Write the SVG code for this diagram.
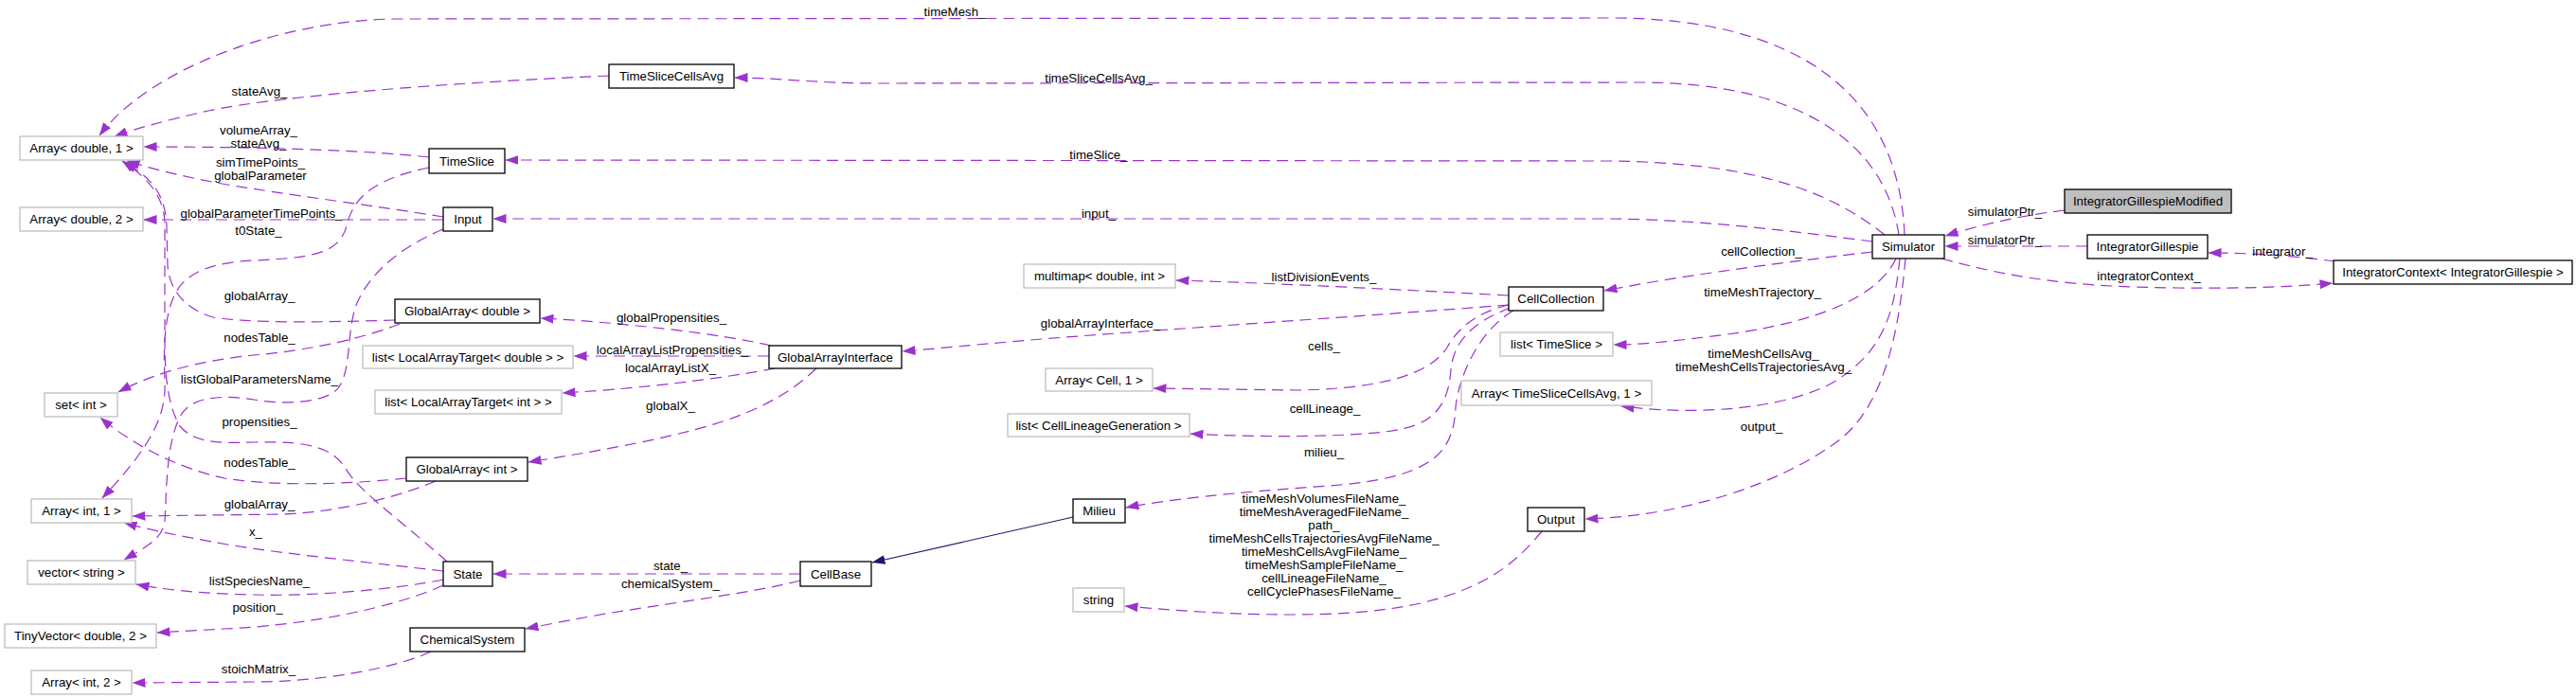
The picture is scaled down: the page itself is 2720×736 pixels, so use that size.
<svg xmlns="http://www.w3.org/2000/svg" width="2720" height="736" viewBox="0 0 2720 736">
<style>
text{font-family:"Liberation Sans",Arial,sans-serif;font-size:13.3px;fill:#000}
.node text{text-anchor:middle}
.node rect{fill:#fff;stroke:#000;stroke-width:1.3}
.node.ext rect{stroke:#bfbfbf}
.node.cur rect{fill:#bfbfbf}
.edges path{fill:none;stroke:#9a32cd;stroke-width:1.2;stroke-dasharray:12,7}
.edges path.inh{stroke:#191970;stroke-dasharray:none}
.lbl text{text-anchor:middle}
</style>
<defs>
<marker id="ah" markerWidth="14" markerHeight="10" refX="13.5" refY="5" orient="auto" markerUnits="userSpaceOnUse"><path d="M0,0 L14,5 L0,10 z" fill="#9a32cd"/></marker>
<marker id="ahi" markerWidth="14" markerHeight="10" refX="13.5" refY="5" orient="auto" markerUnits="userSpaceOnUse"><path d="M0,0 L14,5 L0,10 z" fill="#191970"/></marker>
</defs>
<rect width="2720" height="736" fill="#fff"/>
<g class="edges">
<path marker-end="url(#ah)" d="M2011,248 C2005,100 1900,19 1700,19 L415,20 C300,22 160,70 105,143"/>
<path marker-end="url(#ah)" d="M2005,248 C1990,150 1900,88 1735,87 L930,88 C860,88 820,82 776,82"/>
<path marker-end="url(#ah)" d="M1990,248 C1930,200 1850,172 1700,170 L534,169"/>
<path marker-end="url(#ah)" d="M1977,255 C1900,245 1800,232 1700,231 L521,231"/>
<path marker-end="url(#ah)" d="M1977,266 C1900,275 1780,290 1694,307"/>
<path marker-end="url(#ah)" d="M2002,273 C1980,320 1900,345 1800,356 C1760,361 1730,364 1704,364"/>
<path marker-end="url(#ah)" d="M2006,273 C2000,330 1990,370 1937,403 C1890,430 1800,440 1712,429"/>
<path marker-end="url(#ah)" d="M2012,273 C2005,350 1990,430 1939,467 C1880,510 1780,545 1674,548"/>
<path marker-end="url(#ah)" d="M2180,222 C2130,228 2090,238 2054,249"/>
<path marker-end="url(#ah)" d="M2204,260 L2054,260"/>
<path marker-end="url(#ah)" d="M2466,276 C2420,270 2380,267 2332,267"/>
<path marker-end="url(#ah)" d="M2050,273 C2120,292 2180,303 2300,304 C2380,305 2430,302 2463,299"/>
<path marker-end="url(#ah)" d="M1593,312 C1500,307 1350,299 1242,296"/>
<path marker-end="url(#ah)" d="M1593,322 C1450,333 1200,350 1100,358 C1040,363 990,368 953,371"/>
<path marker-end="url(#ah)" d="M1593,322 C1560,330 1540,345 1528,367 C1510,395 1460,410 1372,412 L1218,410"/>
<path marker-end="url(#ah)" d="M1595,325 C1555,340 1535,360 1532,390 C1530,420 1520,445 1480,453 C1440,462 1330,462 1257,458"/>
<path marker-end="url(#ah)" d="M1598,328 C1560,350 1540,400 1537,430 C1535,480 1510,505 1403,513 C1300,520 1230,528 1189,536"/>
<path marker-end="url(#ah)" d="M1628,561 C1600,595 1570,620 1500,637 C1420,655 1300,650 1188,640"/>
<path class="inh" marker-end="url(#ahi)" d="M1133,546 L921,594"/>
<path marker-end="url(#ah)" d="M845,606 L521,606"/>
<path marker-end="url(#ah)" d="M845,613 C800,625 720,635 640,648 C600,655 575,660 555,664"/>
<path marker-end="url(#ah)" d="M814,365 C760,352 650,340 571,336"/>
<path marker-end="url(#ah)" d="M812,376 L606,376"/>
<path marker-end="url(#ah)" d="M818,389 C760,400 680,410 594,415"/>
<path marker-end="url(#ah)" d="M862,389 C840,410 810,430 760,446 C700,465 620,478 558,488"/>
<path marker-end="url(#ah)" d="M643,80 C500,86 300,100 220,117 C180,126 145,135 121,144"/>
<path marker-end="url(#ah)" d="M453,166 C400,160 300,155 152,155"/>
<path marker-end="url(#ah)" d="M468,229 C400,218 300,205 240,195 C190,186 160,178 134,170"/>
<path marker-end="url(#ah)" d="M468,232 L152,232"/>
<path marker-end="url(#ah)" d="M453,177 C400,188 375,205 367,235 C360,265 340,272 268,275 C220,277 195,290 185,310 C175,330 172,360 174,400 C176,440 160,470 108,526"/>
<path marker-end="url(#ah)" d="M468,242 C420,262 390,290 377,320 C365,350 372,390 357,410 C345,425 300,428 268,422 C230,416 200,420 190,440 C175,470 176,520 174,550 C172,570 150,580 131,591"/>
<path marker-end="url(#ah)" d="M472,593 C430,555 380,520 365,495 C350,470 320,466 268,467 C230,468 205,468 190,450 C178,430 174,400 174,360 L174,235 C173,210 160,190 129,170"/>
<path marker-end="url(#ah)" d="M417,338 C350,340 270,342 225,335 C190,325 178,300 177,280 L176,240 C175,210 165,190 131,171"/>
<path marker-end="url(#ah)" d="M422,342 C390,355 330,370 268,375 C220,380 170,390 125,414"/>
<path marker-end="url(#ah)" d="M429,505 C380,510 300,515 237,505 C190,495 140,470 106,441"/>
<path marker-end="url(#ah)" d="M460,508 C420,525 360,540 300,543 L140,545"/>
<path marker-end="url(#ah)" d="M468,603 C400,595 300,585 240,575 C190,566 160,560 131,552"/>
<path marker-end="url(#ah)" d="M468,612 C420,622 330,630 268,628 C210,627 170,622 144,617"/>
<path marker-end="url(#ah)" d="M468,618 C420,640 330,660 237,664 L166,668"/>
<path marker-end="url(#ah)" d="M455,688 C420,705 340,720 268,720 L140,721"/>
</g>
<g class="lbl">
<text x="1008" y="17">timeMesh_</text>
<text x="1160" y="87">timeSliceCellsAvg_</text>
<text x="1160" y="168">timeSlice_</text>
<text x="1160" y="230">input_</text>
<text x="274" y="101">stateAvg_</text>
<text x="273" y="142">volumeArray_</text>
<text x="273" y="156">stateAvg_</text>
<text x="275" y="176">simTimePoints_</text>
<text x="275" y="190">globalParameter</text>
<text x="276" y="230">globalParameterTimePoints_</text>
<text x="273" y="248">t0State_</text>
<text x="274" y="317">globalArray_</text>
<text x="274" y="361">nodesTable_</text>
<text x="274" y="405">listGlobalParametersName_</text>
<text x="274" y="450">propensities_</text>
<text x="274" y="493">nodesTable_</text>
<text x="274" y="537">globalArray_</text>
<text x="270" y="566">x_</text>
<text x="274" y="618">listSpeciesName_</text>
<text x="272" y="646">position_</text>
<text x="273" y="711">stoichMatrix_</text>
<text x="709" y="340">globalPropensities_</text>
<text x="710" y="374">localArrayListPropensities_</text>
<text x="708" y="393">localArrayListX_</text>
<text x="708" y="433">globalX_</text>
<text x="708" y="602">state_</text>
<text x="708" y="621">chemicalSystem_</text>
<text x="1398" y="297">listDivisionEvents_</text>
<text x="1162" y="346">globalArrayInterface_</text>
<text x="1398" y="370">cells_</text>
<text x="1399" y="436">cellLineage_</text>
<text x="1398" y="482">milieu_</text>
<text x="1398" y="531">timeMeshVolumesFileName_</text>
<text x="1398" y="545">timeMeshAveragedFileName_</text>
<text x="1398" y="559">path_</text>
<text x="1398" y="573">timeMeshCellsTrajectoriesAvgFileName_</text>
<text x="1398" y="587">timeMeshCellsAvgFileName_</text>
<text x="1398" y="601">timeMeshSampleFileName_</text>
<text x="1398" y="615">cellLineageFileName_</text>
<text x="1398" y="629">cellCyclePhasesFileName_</text>
<text x="1860" y="270">cellCollection_</text>
<text x="1861" y="313">timeMeshTrajectory_</text>
<text x="1862" y="378">timeMeshCellsAvg_</text>
<text x="1862" y="392">timeMeshCellsTrajectoriesAvg_</text>
<text x="1860" y="455">output_</text>
<text x="2117" y="228">simulatorPtr_</text>
<text x="2117" y="258">simulatorPtr_</text>
<text x="2410" y="270">integrator_</text>
<text x="2269" y="296">integratorContext_</text>
</g>
<g id="n_arr_d1" class="node ext"><rect x="21" y="144" width="130" height="25"/><text x="86" y="161">Array&lt; double, 1 &gt;</text></g>
<g id="n_arr_d2" class="node ext"><rect x="21" y="219" width="130" height="25"/><text x="86" y="236">Array&lt; double, 2 &gt;</text></g>
<g id="n_set_int" class="node ext"><rect x="47" y="415" width="77" height="25"/><text x="85.5" y="432">set&lt; int &gt;</text></g>
<g id="n_arr_i1" class="node ext"><rect x="33" y="527" width="106" height="25"/><text x="86" y="544">Array&lt; int, 1 &gt;</text></g>
<g id="n_vec_str" class="node ext"><rect x="29" y="592" width="114" height="25"/><text x="86" y="609">vector&lt; string &gt;</text></g>
<g id="n_tinyvec" class="node ext"><rect x="5" y="659" width="160" height="25"/><text x="85" y="676">TinyVector&lt; double, 2 &gt;</text></g>
<g id="n_arr_i2" class="node ext"><rect x="33" y="708" width="106" height="25"/><text x="86" y="725">Array&lt; int, 2 &gt;</text></g>
<g id="n_tsca" class="node"><rect x="643" y="68" width="132" height="25"/><text x="709" y="85">TimeSliceCellsAvg</text></g>
<g id="n_timeslice" class="node"><rect x="453" y="157" width="80" height="26"/><text x="493" y="175">TimeSlice</text></g>
<g id="n_input" class="node"><rect x="468" y="219" width="52" height="25"/><text x="494" y="236">Input</text></g>
<g id="n_ga_double" class="node"><rect x="417" y="316" width="153" height="25"/><text x="493.5" y="333">GlobalArray&lt; double &gt;</text></g>
<g id="n_lat_double" class="node ext"><rect x="383" y="365" width="222" height="24"/><text x="494" y="382">list&lt; LocalArrayTarget&lt; double &gt; &gt;</text></g>
<g id="n_lat_int" class="node ext"><rect x="396" y="412" width="197" height="25"/><text x="494.5" y="429">list&lt; LocalArrayTarget&lt; int &gt; &gt;</text></g>
<g id="n_ga_int" class="node"><rect x="429" y="483" width="128" height="25"/><text x="493" y="500">GlobalArray&lt; int &gt;</text></g>
<g id="n_state" class="node"><rect x="468" y="593" width="52" height="26"/><text x="494" y="611">State</text></g>
<g id="n_chemsys" class="node"><rect x="433" y="663" width="121" height="25"/><text x="493.5" y="680">ChemicalSystem</text></g>
<g id="n_gai" class="node"><rect x="812" y="365" width="140" height="24"/><text x="882" y="382">GlobalArrayInterface</text></g>
<g id="n_cellbase" class="node"><rect x="845" y="593" width="75" height="26"/><text x="882.5" y="611">CellBase</text></g>
<g id="n_multimap" class="node ext"><rect x="1081" y="279" width="160" height="25"/><text x="1161" y="296">multimap&lt; double, int &gt;</text></g>
<g id="n_arr_cell" class="node ext"><rect x="1104" y="389" width="113" height="24"/><text x="1160.5" y="406">Array&lt; Cell, 1 &gt;</text></g>
<g id="n_list_clg" class="node ext"><rect x="1064" y="437" width="192" height="24"/><text x="1160" y="454">list&lt; CellLineageGeneration &gt;</text></g>
<g id="n_milieu" class="node"><rect x="1133" y="527" width="55" height="25"/><text x="1160.5" y="544">Milieu</text></g>
<g id="n_string" class="node ext"><rect x="1133" y="621" width="54" height="25"/><text x="1160" y="638">string</text></g>
<g id="n_cellcoll" class="node"><rect x="1593" y="303" width="100" height="25"/><text x="1643" y="320">CellCollection</text></g>
<g id="n_list_ts" class="node ext"><rect x="1584" y="351" width="119" height="25"/><text x="1643.5" y="368">list&lt; TimeSlice &gt;</text></g>
<g id="n_arr_tsca" class="node ext"><rect x="1543" y="402" width="201" height="26"/><text x="1643.5" y="420">Array&lt; TimeSliceCellsAvg, 1 &gt;</text></g>
<g id="n_output" class="node"><rect x="1613" y="536" width="60" height="25"/><text x="1643" y="553">Output</text></g>
<g id="n_simulator" class="node"><rect x="1977" y="248" width="76" height="25"/><text x="2015" y="265">Simulator</text></g>
<g id="n_igm" class="node cur"><rect x="2180" y="200" width="176" height="25"/><text x="2268" y="217">IntegratorGillespieModified</text></g>
<g id="n_ig" class="node"><rect x="2204" y="248" width="127" height="25"/><text x="2267.5" y="265">IntegratorGillespie</text></g>
<g id="n_ic" class="node"><rect x="2464" y="275" width="252" height="25"/><text x="2590" y="292">IntegratorContext&lt; IntegratorGillespie &gt;</text></g>
</svg>
